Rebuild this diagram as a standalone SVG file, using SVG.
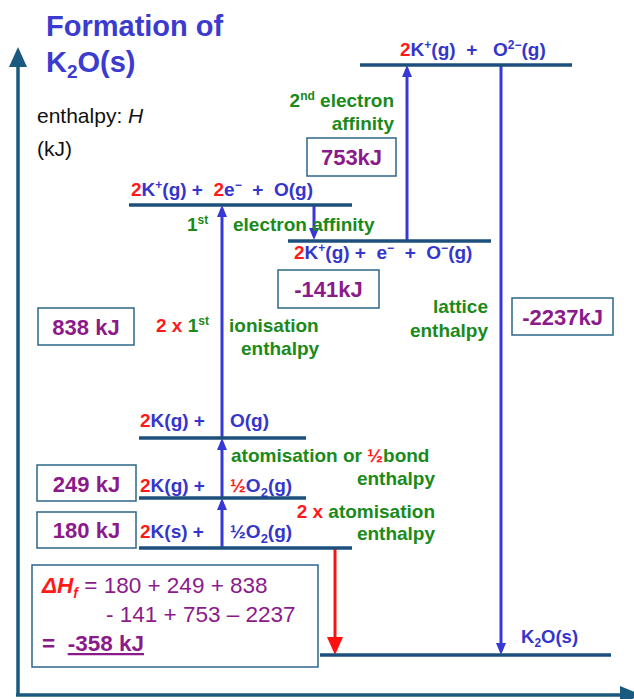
<svg xmlns="http://www.w3.org/2000/svg" width="634" height="699" viewBox="0 0 634 699">
<style>
text{font-family:"Liberation Sans",Arial,sans-serif;white-space:pre}
.title{font-size:29px;font-weight:bold;fill:#3b3bd0}
.ax{font-size:21px;fill:#111}
.lv{font-size:19px;font-weight:bold;fill:#3535cc}
.r{fill:#ff1a1a}
.g{font-size:19px;font-weight:bold;fill:#1a8a1a}
.val{font-size:22px;font-weight:bold;fill:#8b1a8b}
.f{font-size:22.5px;fill:#8b1a8b}
.lvl{stroke:#1d4f7c;stroke-width:3.5}
.box{fill:#fff;stroke:#2d6688;stroke-width:1.5}
.arr{stroke:#3838d4;stroke-width:3;fill:none;marker-end:url(#bh)}
.axis{stroke:#1b5a80;stroke-width:3.5;fill:none}
</style>
<defs>
<marker id="bh" markerUnits="userSpaceOnUse" viewBox="0 0 12 10" refX="8" refY="5" markerWidth="12" markerHeight="10" orient="auto">
<path d="M0,0 L12,5 L0,10 z" fill="#3838d4"/>
</marker>
<marker id="rh" markerUnits="userSpaceOnUse" viewBox="0 0 18 16" refX="14" refY="8" markerWidth="18" markerHeight="16" orient="auto">
<path d="M0,0 L18,8 L0,16 z" fill="#ff1010"/>
</marker>
</defs>

<g id="axes">
<line class="axis" x1="18" y1="696" x2="18" y2="62"/>
<polygon points="18,47 9,67 27,67" fill="#1b5a80"/>
<line class="axis" x1="16" y1="695" x2="625" y2="695"/>
<polygon points="642,695 620,686 620,704" fill="#1b5a80"/>
</g>

<g id="title">
<text class="title" x="46" y="36">Formation of</text>
<text class="title" x="46" y="72">K<tspan font-size="19" dy="6">2</tspan><tspan dy="-6">O(s)</tspan></text>
<text class="ax" x="37" y="123">enthalpy: <tspan font-style="italic">H</tspan></text>
<text class="ax" x="37" y="156">(kJ)</text>
</g>

<g id="connectors">
<line class="arr" x1="222" y1="548" x2="222" y2="502"/>
<line class="arr" x1="222" y1="498" x2="222" y2="442"/>
<line class="arr" x1="222" y1="438" x2="222" y2="209"/>
<line class="arr" x1="314" y1="205" x2="314" y2="236"/>
<line class="arr" x1="407" y1="241" x2="407" y2="69"/>
<line class="arr" x1="501" y1="65" x2="501" y2="651"/>
<line x1="335" y1="549" x2="335" y2="651" stroke="#ff1010" stroke-width="3" marker-end="url(#rh)"/>
</g>

<g id="level-top">
<line class="lvl" x1="360" y1="65" x2="572" y2="65"/>
<text class="lv" x="400" y="56" xml:space="preserve"><tspan class="r">2</tspan>K<tspan font-size="12" dy="-7">+</tspan><tspan dy="7">(g)  +   O</tspan><tspan font-size="12" dy="-7">2−</tspan><tspan dy="7">(g)</tspan></text>
</g>

<g id="level-ions-atoms">
<line class="lvl" x1="129" y1="205" x2="352" y2="205"/>
<text class="lv" x="131" y="196" xml:space="preserve"><tspan class="r">2</tspan>K<tspan font-size="12" dy="-7">+</tspan><tspan dy="7">(g) +  </tspan><tspan class="r">2</tspan>e<tspan font-size="12" dy="-7">−</tspan><tspan dy="7">  +  O(g)</tspan></text>
</g>

<g id="level-O-minus">
<line class="lvl" x1="288" y1="241" x2="491" y2="241"/>
<text class="lv" x="294" y="259" xml:space="preserve"><tspan class="r">2</tspan>K<tspan font-size="12" dy="-7">+</tspan><tspan dy="7">(g) +  e</tspan><tspan font-size="12" dy="-7">−</tspan><tspan dy="7">  +  O</tspan><tspan font-size="12" dy="-7">−</tspan><tspan dy="7">(g)</tspan></text>
</g>

<g id="level-atoms">
<line class="lvl" x1="139" y1="438" x2="306" y2="438"/>
<text class="lv" x="140" y="427"><tspan class="r">2</tspan>K(g) +</text>
<text class="lv" x="230" y="427">O(g)</text>
</g>

<g id="level-K-gas">
<line class="lvl" x1="139" y1="498" x2="306" y2="498"/>
<text class="lv" x="140" y="492"><tspan class="r">2</tspan>K(g) +</text>
<text class="lv" x="230" y="492"><tspan class="r">½</tspan>O<tspan font-size="13" dy="5">2</tspan><tspan dy="-5">(g)</tspan></text>
</g>

<g id="level-elements">
<line class="lvl" x1="139" y1="548" x2="352" y2="548"/>
<text class="lv" x="140" y="538"><tspan class="r">2</tspan>K(s) +</text>
<text class="lv" x="230" y="538">½O<tspan font-size="13" dy="5">2</tspan><tspan dy="-5">(g)</tspan></text>
</g>

<g id="level-K2O">
<line class="lvl" x1="320" y1="655" x2="611" y2="655"/>
<text x="521" y="643" font-size="18.5" font-weight="bold" fill="#3535cc">K<tspan font-size="12" dy="4">2</tspan><tspan dy="-4">O(s)</tspan></text>
</g>

<g id="labels">
<text class="g" x="394" y="107" text-anchor="end">2<tspan font-size="12" dy="-7">nd</tspan><tspan dy="7"> electron</tspan></text>
<text class="g" x="394" y="130" text-anchor="end">affinity</text>
<text class="g" x="187" y="231">1<tspan font-size="12" dy="-7">st</tspan></text>
<text class="g" x="233" y="231">electron affinity</text>
<text class="g" x="156" y="332"><tspan class="r">2 x </tspan>1<tspan font-size="12" dy="-7">st</tspan></text>
<text class="g" x="229" y="332">ionisation</text>
<text class="g" x="241" y="355">enthalpy</text>
<text class="g" x="488" y="313" text-anchor="end">lattice</text>
<text class="g" x="488" y="337" text-anchor="end">enthalpy</text>
<text class="g" x="231" y="462">atomisation or <tspan class="r">½</tspan>bond</text>
<text class="g" x="435" y="485" text-anchor="end">enthalpy</text>
<text class="g" x="435" y="518" text-anchor="end"><tspan class="r">2 x</tspan> atomisation</text>
<text class="g" x="435" y="540" text-anchor="end">enthalpy</text>
</g>

<g id="box-753">
<rect class="box" x="307" y="138" width="89" height="38"/>
<text class="val" x="351.5" y="165" text-anchor="middle">753kJ</text>
</g>
<g id="box-141">
<rect class="box" x="278" y="270" width="101" height="38"/>
<text class="val" x="328.5" y="297" text-anchor="middle">-141kJ</text>
</g>
<g id="box-838">
<rect class="box" x="38" y="308" width="96" height="37"/>
<text class="val" x="86" y="335" text-anchor="middle">838 kJ</text>
</g>
<g id="box-2237">
<rect class="box" x="512" y="298" width="101" height="37"/>
<text class="val" x="562.5" y="325" text-anchor="middle">-2237kJ</text>
</g>
<g id="box-249">
<rect class="box" x="37" y="465" width="99" height="36"/>
<text class="val" x="86.5" y="492" text-anchor="middle">249 kJ</text>
</g>
<g id="box-180">
<rect class="box" x="37" y="512" width="99" height="36"/>
<text class="val" x="86.5" y="538" text-anchor="middle">180 kJ</text>
</g>

<g id="formula">
<rect class="box" x="32" y="565" width="286" height="102"/>
<text class="f" x="42" y="593"><tspan fill="#ff1a1a" font-weight="bold" font-style="italic">ΔH<tspan font-size="14" dy="5">f</tspan></tspan><tspan dy="-5"> = 180 + 249 + 838</tspan></text>
<text class="f" x="106" y="622">- 141 + 753 – 2237</text>
<text class="f" x="42" y="651" font-weight="bold" xml:space="preserve">=  <tspan text-decoration="underline">-358 kJ</tspan></text>
</g>
</svg>
